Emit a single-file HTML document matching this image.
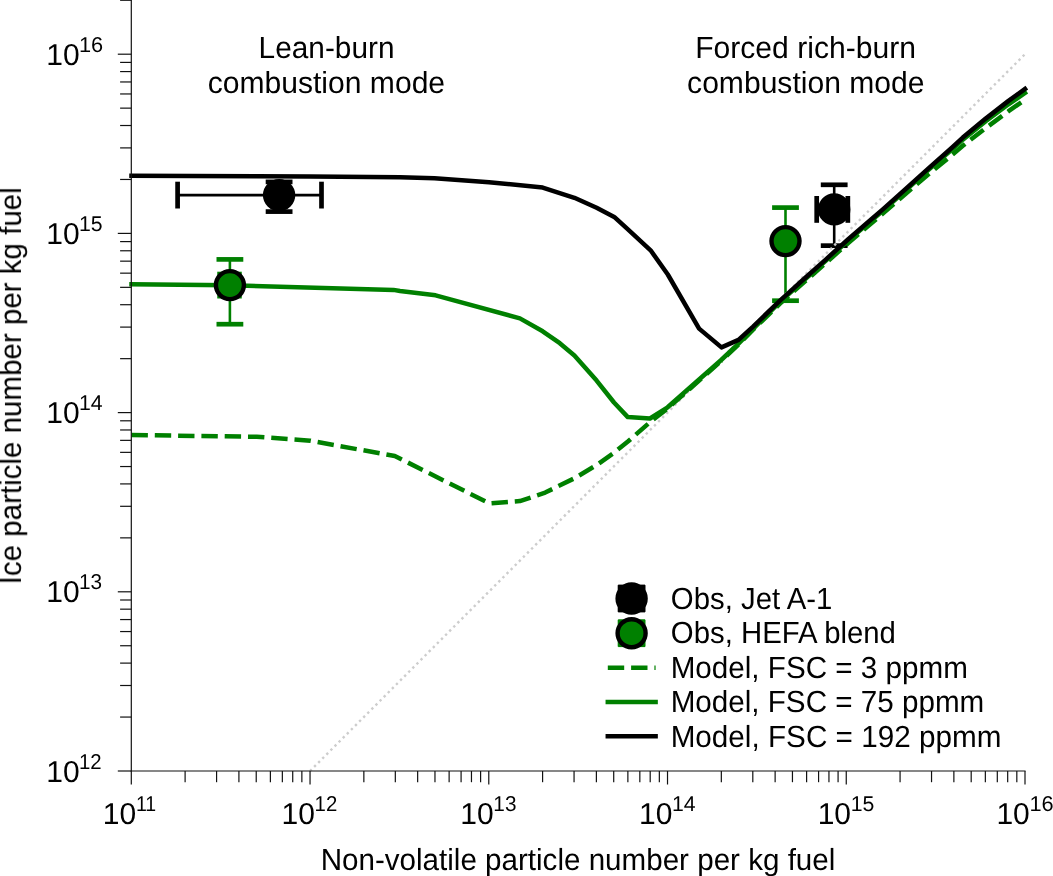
<!DOCTYPE html>
<html><head><meta charset="utf-8"><title>Ice particle number vs non-volatile particle number</title>
<style>html,body{margin:0;padding:0;background:#fff;}svg{display:block;}text{font-family:"Liberation Sans",sans-serif;fill:#000;text-rendering:geometricPrecision;}</style>
</head><body>
<svg width="1053" height="876" viewBox="0 0 1053 876">
<rect x="0" y="0" width="1053" height="876" fill="#ffffff"/>
<line x1="177.6" y1="195.1" x2="321.5" y2="195.1" stroke="#000" stroke-width="2.6"/><line x1="177.6" y1="181.7" x2="177.6" y2="208.5" stroke="#000" stroke-width="4.7"/><line x1="321.5" y1="181.7" x2="321.5" y2="208.5" stroke="#000" stroke-width="4.7"/><line x1="279.1" y1="181.9" x2="279.1" y2="211.6" stroke="#000" stroke-width="2.6"/><line x1="265.70" y1="181.9" x2="292.5" y2="181.9" stroke="#000" stroke-width="4.7"/><line x1="265.70" y1="211.6" x2="292.5" y2="211.6" stroke="#000" stroke-width="4.7"/>
<line x1="219.6" y1="285.1" x2="239.4" y2="285.1" stroke="#008000" stroke-width="2.6"/><line x1="219.6" y1="271.70" x2="219.6" y2="298.5" stroke="#008000" stroke-width="4.7"/><line x1="239.4" y1="271.70" x2="239.4" y2="298.5" stroke="#008000" stroke-width="4.7"/><line x1="229.9" y1="259.4" x2="229.9" y2="324.2" stroke="#008000" stroke-width="2.6"/><line x1="216.5" y1="259.4" x2="243.3" y2="259.4" stroke="#008000" stroke-width="4.7"/><line x1="216.5" y1="324.2" x2="243.3" y2="324.2" stroke="#008000" stroke-width="4.7"/>
<line x1="785.5" y1="207.6" x2="785.5" y2="300.7" stroke="#008000" stroke-width="2.6"/><line x1="772.1" y1="207.6" x2="798.9" y2="207.6" stroke="#008000" stroke-width="4.7"/><line x1="772.1" y1="300.7" x2="798.9" y2="300.7" stroke="#008000" stroke-width="4.7"/>
<line x1="816.7" y1="209.4" x2="847.85" y2="209.4" stroke="#000" stroke-width="2.6"/><line x1="816.7" y1="196.0" x2="816.7" y2="222.8" stroke="#000" stroke-width="4.7"/><line x1="847.85" y1="196.0" x2="847.85" y2="222.8" stroke="#000" stroke-width="4.7"/><line x1="834.2" y1="184.8" x2="834.2" y2="245.65" stroke="#000" stroke-width="2.6"/><line x1="820.80" y1="184.8" x2="847.6" y2="184.8" stroke="#000" stroke-width="4.7"/><line x1="820.80" y1="245.65" x2="847.6" y2="245.65" stroke="#000" stroke-width="4.7"/>
<line x1="310.04" y1="771.00" x2="1025.00" y2="54.20" stroke="#cdcdcd" stroke-width="2.4" stroke-dasharray="2.4 3.4"/>
<path d="M131.5,435.0 L256.8,436.8 L310.3,440.7 L394.8,456.0 L489.4,503.4 L519.9,501.1 L545.2,492.6 L574.4,478.3 L596.7,465.0 L614.1,452.7 L628.2,441.3 L650.6,421.6 L667.9,408.2 L721.2,361.0" fill="none" stroke="#008000" stroke-width="4.5" stroke-dasharray="16.4 6.9" stroke-linejoin="round"/>
<path d="M721.2,361.0 L738.5,344.6 L753.1,329.6 L780.0,303.6 L790.0,294.7 L802.8,283.3 L825.7,263.1 L848.5,242.8 L871.4,223.3 L882.8,213.6 L905.7,193.7 L928.5,174.4 L951.3,155.6 L962.8,145.8 L985.7,128.1 L1008.5,111.2 L1025.0,99.7" fill="none" stroke="#008000" stroke-width="4.5" stroke-dasharray="16.4 6.9" stroke-dashoffset="15.97" stroke-linejoin="round"/>
<path d="M131.5,284.2 L229.7,285.2 L393.5,289.9 L400.0,291.0 L435.6,295.3 L519.9,318.4 L542.7,331.3 L559.8,343.2 L574.4,355.5 L596.6,380.6 L614.0,402.5 L627.8,417.1 L650.0,418.5 L667.6,407.3 L721.2,360.0 L738.5,343.6 L753.1,328.8 L780.0,302.0 L790.0,292.9 L802.8,281.3 L825.7,260.9 L848.5,240.3 L871.4,220.6 L882.8,210.7 L905.7,190.3 L928.5,169.9 L951.3,150.1 L962.8,139.7 L985.7,121.2 L1008.5,104.3 L1025.0,93.0" fill="none" stroke="#008000" stroke-width="4.5" stroke-linecap="square" stroke-linejoin="round"/>
<path d="M131.5,175.8 L256.5,176.3 L310.3,176.6 L400.0,177.3 L434.5,178.2 L489.0,182.2 L542.7,187.6 L574.4,197.8 L596.6,207.8 L614.2,216.9 L628.2,229.6 L650.6,250.3 L667.8,274.5 L699.1,328.6 L721.5,347.4 L738.5,339.9 L753.1,326.6 L780.0,300.6 L790.0,291.6 L802.8,280.0 L825.7,259.6 L848.5,239.0 L871.4,219.3 L882.8,209.4 L905.7,189.0 L928.5,168.4 L951.3,148.2 L962.8,137.6 L985.7,118.6 L1008.5,100.9 L1025.0,89.0" fill="none" stroke="#000" stroke-width="4.5" stroke-linecap="square" stroke-linejoin="round"/>
<circle cx="279.1" cy="195.1" r="14.0" fill="#000" stroke="#000" stroke-width="4.4"/>
<circle cx="229.9" cy="285.1" r="14.0" fill="#008000" stroke="#000" stroke-width="4.4"/>
<circle cx="785.5" cy="241.1" r="14.0" fill="#008000" stroke="#000" stroke-width="4.4"/>
<circle cx="834.2" cy="209.4" r="14.0" fill="#000" stroke="#000" stroke-width="4.4"/>
<line x1="131.3" y1="0" x2="131.3" y2="771.55" stroke="#111111" stroke-width="1.2"/>
<line x1="130.75" y1="771.0" x2="1025.55" y2="771.0" stroke="#111111" stroke-width="1.2"/>
<line x1="131.30" y1="771.0" x2="131.30" y2="784.5" stroke="#111111" stroke-width="1.2"/>
<line x1="185.11" y1="771.0" x2="185.11" y2="782.2" stroke="#111111" stroke-width="1.2"/>
<line x1="216.58" y1="771.0" x2="216.58" y2="782.2" stroke="#111111" stroke-width="1.2"/>
<line x1="238.91" y1="771.0" x2="238.91" y2="782.2" stroke="#111111" stroke-width="1.2"/>
<line x1="256.23" y1="771.0" x2="256.23" y2="782.2" stroke="#111111" stroke-width="1.2"/>
<line x1="270.39" y1="771.0" x2="270.39" y2="782.2" stroke="#111111" stroke-width="1.2"/>
<line x1="282.35" y1="771.0" x2="282.35" y2="782.2" stroke="#111111" stroke-width="1.2"/>
<line x1="292.72" y1="771.0" x2="292.72" y2="782.2" stroke="#111111" stroke-width="1.2"/>
<line x1="301.86" y1="771.0" x2="301.86" y2="782.2" stroke="#111111" stroke-width="1.2"/>
<line x1="310.04" y1="771.0" x2="310.04" y2="784.5" stroke="#111111" stroke-width="1.2"/>
<line x1="363.85" y1="771.0" x2="363.85" y2="782.2" stroke="#111111" stroke-width="1.2"/>
<line x1="395.32" y1="771.0" x2="395.32" y2="782.2" stroke="#111111" stroke-width="1.2"/>
<line x1="417.65" y1="771.0" x2="417.65" y2="782.2" stroke="#111111" stroke-width="1.2"/>
<line x1="434.97" y1="771.0" x2="434.97" y2="782.2" stroke="#111111" stroke-width="1.2"/>
<line x1="449.13" y1="771.0" x2="449.13" y2="782.2" stroke="#111111" stroke-width="1.2"/>
<line x1="461.09" y1="771.0" x2="461.09" y2="782.2" stroke="#111111" stroke-width="1.2"/>
<line x1="471.46" y1="771.0" x2="471.46" y2="782.2" stroke="#111111" stroke-width="1.2"/>
<line x1="480.60" y1="771.0" x2="480.60" y2="782.2" stroke="#111111" stroke-width="1.2"/>
<line x1="488.78" y1="771.0" x2="488.78" y2="784.5" stroke="#111111" stroke-width="1.2"/>
<line x1="542.59" y1="771.0" x2="542.59" y2="782.2" stroke="#111111" stroke-width="1.2"/>
<line x1="574.06" y1="771.0" x2="574.06" y2="782.2" stroke="#111111" stroke-width="1.2"/>
<line x1="596.39" y1="771.0" x2="596.39" y2="782.2" stroke="#111111" stroke-width="1.2"/>
<line x1="613.71" y1="771.0" x2="613.71" y2="782.2" stroke="#111111" stroke-width="1.2"/>
<line x1="627.87" y1="771.0" x2="627.87" y2="782.2" stroke="#111111" stroke-width="1.2"/>
<line x1="639.83" y1="771.0" x2="639.83" y2="782.2" stroke="#111111" stroke-width="1.2"/>
<line x1="650.20" y1="771.0" x2="650.20" y2="782.2" stroke="#111111" stroke-width="1.2"/>
<line x1="659.34" y1="771.0" x2="659.34" y2="782.2" stroke="#111111" stroke-width="1.2"/>
<line x1="667.52" y1="771.0" x2="667.52" y2="784.5" stroke="#111111" stroke-width="1.2"/>
<line x1="721.33" y1="771.0" x2="721.33" y2="782.2" stroke="#111111" stroke-width="1.2"/>
<line x1="752.80" y1="771.0" x2="752.80" y2="782.2" stroke="#111111" stroke-width="1.2"/>
<line x1="775.13" y1="771.0" x2="775.13" y2="782.2" stroke="#111111" stroke-width="1.2"/>
<line x1="792.45" y1="771.0" x2="792.45" y2="782.2" stroke="#111111" stroke-width="1.2"/>
<line x1="806.61" y1="771.0" x2="806.61" y2="782.2" stroke="#111111" stroke-width="1.2"/>
<line x1="818.57" y1="771.0" x2="818.57" y2="782.2" stroke="#111111" stroke-width="1.2"/>
<line x1="828.94" y1="771.0" x2="828.94" y2="782.2" stroke="#111111" stroke-width="1.2"/>
<line x1="838.08" y1="771.0" x2="838.08" y2="782.2" stroke="#111111" stroke-width="1.2"/>
<line x1="846.26" y1="771.0" x2="846.26" y2="784.5" stroke="#111111" stroke-width="1.2"/>
<line x1="900.07" y1="771.0" x2="900.07" y2="782.2" stroke="#111111" stroke-width="1.2"/>
<line x1="931.54" y1="771.0" x2="931.54" y2="782.2" stroke="#111111" stroke-width="1.2"/>
<line x1="953.87" y1="771.0" x2="953.87" y2="782.2" stroke="#111111" stroke-width="1.2"/>
<line x1="971.19" y1="771.0" x2="971.19" y2="782.2" stroke="#111111" stroke-width="1.2"/>
<line x1="985.35" y1="771.0" x2="985.35" y2="782.2" stroke="#111111" stroke-width="1.2"/>
<line x1="997.31" y1="771.0" x2="997.31" y2="782.2" stroke="#111111" stroke-width="1.2"/>
<line x1="1007.68" y1="771.0" x2="1007.68" y2="782.2" stroke="#111111" stroke-width="1.2"/>
<line x1="1016.82" y1="771.0" x2="1016.82" y2="782.2" stroke="#111111" stroke-width="1.2"/>
<line x1="1025.00" y1="771.0" x2="1025.00" y2="784.5" stroke="#111111" stroke-width="1.2"/>
<line x1="131.3" y1="771.00" x2="117.80" y2="771.00" stroke="#111111" stroke-width="1.2"/>
<line x1="131.3" y1="717.06" x2="120.10" y2="717.06" stroke="#111111" stroke-width="1.2"/>
<line x1="131.3" y1="685.50" x2="120.10" y2="685.50" stroke="#111111" stroke-width="1.2"/>
<line x1="131.3" y1="663.11" x2="120.10" y2="663.11" stroke="#111111" stroke-width="1.2"/>
<line x1="131.3" y1="645.74" x2="120.10" y2="645.74" stroke="#111111" stroke-width="1.2"/>
<line x1="131.3" y1="631.56" x2="120.10" y2="631.56" stroke="#111111" stroke-width="1.2"/>
<line x1="131.3" y1="619.56" x2="120.10" y2="619.56" stroke="#111111" stroke-width="1.2"/>
<line x1="131.3" y1="609.17" x2="120.10" y2="609.17" stroke="#111111" stroke-width="1.2"/>
<line x1="131.3" y1="600.00" x2="120.10" y2="600.00" stroke="#111111" stroke-width="1.2"/>
<line x1="131.3" y1="591.80" x2="117.80" y2="591.80" stroke="#111111" stroke-width="1.2"/>
<line x1="131.3" y1="537.86" x2="120.10" y2="537.86" stroke="#111111" stroke-width="1.2"/>
<line x1="131.3" y1="506.30" x2="120.10" y2="506.30" stroke="#111111" stroke-width="1.2"/>
<line x1="131.3" y1="483.91" x2="120.10" y2="483.91" stroke="#111111" stroke-width="1.2"/>
<line x1="131.3" y1="466.54" x2="120.10" y2="466.54" stroke="#111111" stroke-width="1.2"/>
<line x1="131.3" y1="452.36" x2="120.10" y2="452.36" stroke="#111111" stroke-width="1.2"/>
<line x1="131.3" y1="440.36" x2="120.10" y2="440.36" stroke="#111111" stroke-width="1.2"/>
<line x1="131.3" y1="429.97" x2="120.10" y2="429.97" stroke="#111111" stroke-width="1.2"/>
<line x1="131.3" y1="420.80" x2="120.10" y2="420.80" stroke="#111111" stroke-width="1.2"/>
<line x1="131.3" y1="412.60" x2="117.80" y2="412.60" stroke="#111111" stroke-width="1.2"/>
<line x1="131.3" y1="358.66" x2="120.10" y2="358.66" stroke="#111111" stroke-width="1.2"/>
<line x1="131.3" y1="327.10" x2="120.10" y2="327.10" stroke="#111111" stroke-width="1.2"/>
<line x1="131.3" y1="304.71" x2="120.10" y2="304.71" stroke="#111111" stroke-width="1.2"/>
<line x1="131.3" y1="287.34" x2="120.10" y2="287.34" stroke="#111111" stroke-width="1.2"/>
<line x1="131.3" y1="273.16" x2="120.10" y2="273.16" stroke="#111111" stroke-width="1.2"/>
<line x1="131.3" y1="261.16" x2="120.10" y2="261.16" stroke="#111111" stroke-width="1.2"/>
<line x1="131.3" y1="250.77" x2="120.10" y2="250.77" stroke="#111111" stroke-width="1.2"/>
<line x1="131.3" y1="241.60" x2="120.10" y2="241.60" stroke="#111111" stroke-width="1.2"/>
<line x1="131.3" y1="233.40" x2="117.80" y2="233.40" stroke="#111111" stroke-width="1.2"/>
<line x1="131.3" y1="179.46" x2="120.10" y2="179.46" stroke="#111111" stroke-width="1.2"/>
<line x1="131.3" y1="147.90" x2="120.10" y2="147.90" stroke="#111111" stroke-width="1.2"/>
<line x1="131.3" y1="125.51" x2="120.10" y2="125.51" stroke="#111111" stroke-width="1.2"/>
<line x1="131.3" y1="108.14" x2="120.10" y2="108.14" stroke="#111111" stroke-width="1.2"/>
<line x1="131.3" y1="93.96" x2="120.10" y2="93.96" stroke="#111111" stroke-width="1.2"/>
<line x1="131.3" y1="81.96" x2="120.10" y2="81.96" stroke="#111111" stroke-width="1.2"/>
<line x1="131.3" y1="71.57" x2="120.10" y2="71.57" stroke="#111111" stroke-width="1.2"/>
<line x1="131.3" y1="62.40" x2="120.10" y2="62.40" stroke="#111111" stroke-width="1.2"/>
<line x1="131.3" y1="54.20" x2="117.80" y2="54.20" stroke="#111111" stroke-width="1.2"/>
<line x1="131.3" y1="0.26" x2="120.10" y2="0.26" stroke="#111111" stroke-width="1.2"/>
<g opacity="0.999">
<text transform="translate(102.70,823.90) scale(0.9955,1)" font-size="30.2">10</text><text transform="translate(135.93,810.90) scale(0.9123,1)" font-size="21.4">11</text>
<text transform="translate(281.44,823.90) scale(0.9955,1)" font-size="30.2">10</text><text transform="translate(314.61,810.90) scale(0.9523,1)" font-size="21.4">12</text>
<text transform="translate(460.18,823.90) scale(0.9955,1)" font-size="30.2">10</text><text transform="translate(493.33,810.90) scale(0.9707,1)" font-size="21.4">13</text>
<text transform="translate(638.92,823.90) scale(0.9955,1)" font-size="30.2">10</text><text transform="translate(672.03,810.90) scale(0.9933,1)" font-size="21.4">14</text>
<text transform="translate(817.66,823.90) scale(0.9955,1)" font-size="30.2">10</text><text transform="translate(850.77,810.90) scale(0.9939,1)" font-size="21.4">15</text>
<text transform="translate(996.40,823.90) scale(0.9955,1)" font-size="30.2">10</text><text transform="translate(1029.48,810.90) scale(1.0171,1)" font-size="21.4">16</text>
<text transform="translate(46.20,781.60) scale(0.9955,1)" font-size="30.2">10</text><text transform="translate(78.97,768.60) scale(0.9523,1)" font-size="21.4">12</text>
<text transform="translate(46.20,602.40) scale(0.9955,1)" font-size="30.2">10</text><text transform="translate(78.95,589.40) scale(0.9707,1)" font-size="21.4">13</text>
<text transform="translate(46.20,423.20) scale(0.9955,1)" font-size="30.2">10</text><text transform="translate(78.91,410.20) scale(0.9933,1)" font-size="21.4">14</text>
<text transform="translate(46.20,244.00) scale(0.9955,1)" font-size="30.2">10</text><text transform="translate(78.91,231.00) scale(0.9939,1)" font-size="21.4">15</text>
<text transform="translate(46.20,64.80) scale(0.9955,1)" font-size="30.2">10</text><text transform="translate(78.88,51.80) scale(1.0171,1)" font-size="21.4">16</text>
<text transform="translate(258.62,58.00) scale(0.9770,1)" font-size="30.5">Lean-burn</text>
<text transform="translate(207.70,93.00) scale(0.9861,1)" font-size="30.5">combustion mode</text>
<text transform="translate(695.19,58.00) scale(0.9864,1)" font-size="30.5">Forced rich-burn</text>
<text transform="translate(687.10,93.00) scale(0.9861,1)" font-size="30.5">combustion mode</text>
<text transform="translate(320.63,869.80) scale(0.9700,1)" font-size="30.5">Non-volatile particle number per kg fuel</text>
<text transform="translate(20.95,584.36) rotate(-90) scale(0.9679,1)" font-size="30.5">Ice particle number per kg fuel</text>
<text transform="translate(670.83,608.70) scale(0.9624,1)" font-size="30.5">Obs, Jet A-1</text>
<text transform="translate(670.83,643.23) scale(0.9621,1)" font-size="30.5">Obs, HEFA blend</text>
<text transform="translate(670.63,677.75) scale(0.9715,1)" font-size="30.5">Model, FSC = 3 ppmm</text>
<text transform="translate(670.63,712.28) scale(0.9713,1)" font-size="30.5">Model, FSC = 75 ppmm</text>
<text transform="translate(670.63,746.80) scale(0.9731,1)" font-size="30.5">Model, FSC = 192 ppmm</text>
</g>
<line x1="620.05" y1="585.1" x2="620.05" y2="611.9" stroke="#000" stroke-width="4.7"/><line x1="643.15" y1="585.1" x2="643.15" y2="611.9" stroke="#000" stroke-width="4.7"/><line x1="618.2" y1="586.95" x2="645.0" y2="586.95" stroke="#000" stroke-width="4.7"/><line x1="618.2" y1="610.05" x2="645.0" y2="610.05" stroke="#000" stroke-width="4.7"/><rect x="620.05" y="586.95" width="23.1" height="23.1" fill="#000"/>
<circle cx="631.6" cy="598.5" r="14.0" fill="#000" stroke="#000" stroke-width="4.4"/>
<line x1="620.05" y1="619.80" x2="620.05" y2="646.6" stroke="#008000" stroke-width="4.7"/><line x1="643.15" y1="619.80" x2="643.15" y2="646.6" stroke="#008000" stroke-width="4.7"/><line x1="618.2" y1="621.65" x2="645.0" y2="621.65" stroke="#008000" stroke-width="4.7"/><line x1="618.2" y1="644.75" x2="645.0" y2="644.75" stroke="#008000" stroke-width="4.7"/><rect x="620.05" y="621.65" width="23.1" height="23.1" fill="#008000"/>
<circle cx="631.6" cy="633.2" r="14.0" fill="#008000" stroke="#000" stroke-width="4.4"/>
<line x1="607.8" y1="667.7" x2="655.6" y2="667.7" stroke="#008000" stroke-width="4.5" stroke-dasharray="16.4 6.9"/>
<line x1="607.8" y1="702.0" x2="655.6" y2="702.0" stroke="#008000" stroke-width="4.5" stroke-linecap="square"/>
<line x1="607.8" y1="736.3" x2="655.6" y2="736.3" stroke="#000" stroke-width="4.5" stroke-linecap="square"/>
</svg></body></html>
